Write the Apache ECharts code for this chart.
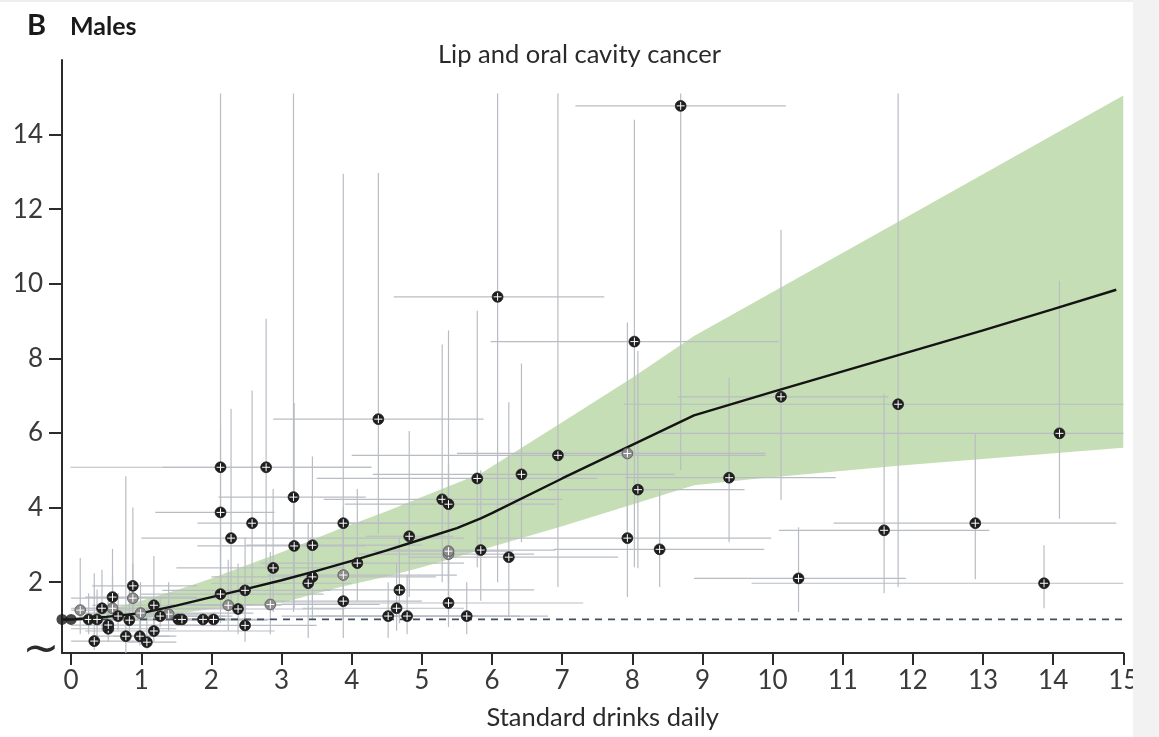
<!DOCTYPE html>
<html>
<head>
<meta charset="utf-8">
<script src="https://cdn.jsdelivr.net/npm/echarts@6/dist/echarts.min.js"></script>
<style>
  html, body { margin: 0; padding: 0; background: #ffffff; }
  #chart { width: 1159px; height: 737px; }
</style>
</head>
<body>
<div id="chart"></div>
<script>
// ---------------- DATA ----------------
const xTicks = [0, 1, 2, 3, 4, 5, 6, 7, 8, 9, 10, 11, 12, 13, 14, 15];
const yTicks = [2, 4, 6, 8, 10, 12, 14];

// fitted dose-response curve
const curveX = [-0.13, 0, 0.5, 1, 1.5, 2, 2.5, 3, 3.5, 4, 4.5, 5, 5.5, 5.84, 6, 7, 8, 8.88, 10, 11, 12, 13, 14, 14.9];
const curveY = [1.0, 1.0, 1.07, 1.17, 1.37, 1.6, 1.82, 2.05, 2.3, 2.57, 2.85, 3.15, 3.45, 3.71, 3.85, 4.78, 5.68, 6.47, 7.1, 7.65, 8.2, 8.75, 9.32, 9.84];

// uncertainty band
const bandX = [-0.13, 0, 0.5, 1, 1.5, 2, 2.5, 3, 3.84, 4.5, 5, 5.84, 7, 8, 8.88, 9.69, 11.83, 15];
const bandUpper = [1.0, 1.02, 1.25, 1.5, 1.78, 2.1, 2.45, 2.8, 3.44, 3.9, 4.28, 4.91, 6.29, 7.48, 8.6, 9.45, 11.7, 15.05];
const bandLower = [1.0, 0.99, 0.98, 1.0, 1.15, 1.28, 1.36, 1.45, 1.87, 2.15, 2.4, 2.86, 3.5, 4.08, 4.6, 4.76, 5.13, 5.6];

// reference line (relative risk = 1)
const refX = [-0.13, 15];
const refY = [1, 1];

// reference-category dots
const refPoints = [[-0.13, 1.0], [0.0, 1.0]];

// study estimates: [x, y, xLow, xHigh, yLow, yHigh]
const clusterPts = [
  [0.25, 1.0, -0.05, 1.6, 0.6, 1.7],
  [0.37, 1.0, 0.0, 1.8, 0.55, 1.8],
  [0.33, 0.42, 0.0, 1.1, 0.18, 2.24],
  [0.44, 1.3, 0.1, 1.3, 0.7, 2.33],
  [0.59, 1.6, 0.2, 1.8, 0.9, 2.89],
  [0.53, 0.75, 0.0, 1.5, 0.4, 1.5],
  [0.53, 0.85, 0.0, 1.9, 0.5, 1.6],
  [0.67, 1.09, 0.3, 2.2, 0.7, 1.7],
  [0.78, 0.55, 0.3, 1.4, 0.1, 4.84],
  [0.83, 0.98, 0.0, 2.8, 0.5, 1.9],
  [0.88, 1.9, 0.3, 1.8, 0.9, 4.0],
  [0.98, 0.55, 0.6, 1.5, 0.3, 1.2],
  [1.08, 0.39, 0.8, 1.5, 0.2, 1.1],
  [1.18, 1.38, 0.3, 2.5, 0.8, 2.7],
  [1.18, 0.69, 0.2, 2.9, 0.4, 1.3],
  [1.27, 1.09, 0.5, 2.3, 0.8, 1.6],
  [1.53, 1.0, 0.8, 2.5, 0.9, 1.1],
  [1.58, 1.0, 1.0, 2.3, 0.9, 1.1],
  [1.88, 1.0, 1.2, 2.6, 0.9, 1.1],
  [2.03, 1.0, 1.4, 2.9, 0.9, 1.15]
];
const clusterPtsLight = [
  [0.13, 1.25, 0.0, 0.9, 0.6, 2.65],
  [0.59, 1.3, 0.0, 2.5, 0.7, 2.2],
  [0.88, 1.57, 0.0, 2.2, 1.0, 2.5],
  [0.99, 1.17, 0.2, 2.6, 0.6, 2.0],
  [1.39, 1.14, 0.9, 2.0, 0.7, 2.0]
];
const midPts = [
  [2.13, 1.68, 1.0, 3.6, 0.9, 3.2],
  [2.38, 1.28, 1.0, 3.9, 0.6, 2.5],
  [2.48, 1.78, 1.3, 3.7, 1.0, 3.2],
  [2.48, 0.84, 1.6, 3.5, 0.4, 1.7],
  [2.13, 5.08, -0.01, 4.28, 1.6, 15.1],
  [2.78, 5.08, 1.3, 4.28, 2.4, 9.06],
  [2.13, 3.87, 1.2, 2.9, 1.5, 6.2],
  [2.28, 3.18, 1.0, 5.6, 1.5, 6.65],
  [2.58, 3.58, 1.8, 5.6, 1.8, 7.14],
  [2.88, 2.38, 1.5, 3.9, 1.2, 4.5],
  [3.17, 4.28, 2.1, 4.2, 1.2, 15.1],
  [3.18, 2.97, 1.8, 4.2, 1.3, 6.8],
  [3.44, 2.99, 2.5, 5.0, 1.5, 5.37],
  [3.44, 2.14, 2.0, 5.2, 1.0, 4.3],
  [3.38, 1.97, 2.0, 4.0, 0.5, 3.6],
  [3.88, 3.58, 2.5, 4.8, 1.0, 12.95],
  [3.88, 1.49, 2.8, 5.0, 0.5, 3.5],
  [4.08, 2.51, 2.7, 5.6, 1.5, 4.5],
  [4.38, 6.37, 2.88, 5.88, 3.3, 12.97],
  [4.82, 3.23, 4.2, 5.45, 1.6, 6.05],
  [4.52, 1.09, 3.4, 5.8, 0.5, 2.0],
  [4.64, 1.3, 3.3, 5.6, 0.7, 2.5],
  [4.68, 1.79, 3.6, 6.6, 0.9, 3.2],
  [4.79, 1.09, 3.0, 6.4, 0.6, 2.2],
  [5.29, 4.22, 3.6, 7.0, 2.0, 8.37],
  [5.38, 4.09, 3.9, 6.9, 2.0, 8.75],
  [5.38, 1.44, 3.0, 7.3, 0.8, 2.6],
  [5.64, 1.09, 3.5, 6.8, 0.6, 2.0],
  [5.79, 4.78, 3.5, 7.5, 2.4, 9.28],
  [5.84, 2.86, 4.6, 6.9, 1.5, 5.0]
];
const midPtsLight = [
  [2.24, 1.38, 1.5, 3.0, 0.7, 2.6],
  [2.84, 1.4, 1.4, 4.4, 0.6, 2.8],
  [3.88, 2.19, 2.8, 5.5, 1.0, 4.0],
  [5.38, 2.75, 4.1, 6.6, 1.2, 4.9],
  [5.38, 2.83, 4.3, 6.3, 1.4, 5.2]
];
const highPts = [
  [6.08, 9.65, 4.6, 7.6, 2.0, 15.1],
  [6.24, 2.67, 4.8, 7.8, 1.07, 6.82],
  [6.42, 4.89, 4.3, 8.6, 3.07, 7.86],
  [6.94, 5.4, 4.0, 9.9, 1.87, 15.1],
  [8.03, 8.45, 5.98, 10.09, 2.4, 14.4],
  [8.08, 4.48, 6.8, 9.6, 2.37, 8.2],
  [7.93, 3.18, 5.8, 9.98, 1.6, 6.14],
  [8.39, 2.88, 6.88, 9.88, 1.87, 4.46],
  [8.69, 14.77, 7.19, 10.19, 5.0, 15.1],
  [9.38, 4.8, 7.9, 10.9, 3.07, 7.48],
  [10.12, 6.97, 8.65, 11.65, 4.2, 11.45],
  [10.37, 2.1, 8.88, 11.9, 1.2, 3.47],
  [11.59, 3.39, 10.09, 13.09, 1.7, 7.05],
  [11.79, 6.77, 7.88, 15.0, 1.87, 15.1],
  [12.89, 3.58, 10.87, 14.9, 2.08, 6.0],
  [13.87, 1.97, 9.7, 15.0, 1.3, 2.99],
  [14.09, 5.99, 8.4, 15.0, 3.7, 10.08]
];
const highPtsLight = [
  [7.93, 5.45, 5.5, 9.9, 3.39, 8.96]
];

// ---------------- CHART ----------------
const darkRows = clusterPts.concat(midPts, highPts);
const lightRows = clusterPtsLight.concat(midPtsLight, highPtsLight);
const allRows = darkRows.concat(lightRows);

const FONT = 'Lato, "Open Sans", sans-serif';
const chart = echarts.init(document.getElementById('chart'), null, { renderer: 'canvas' });

function errorBars(params, api) {
  const x = api.value(0), y = api.value(1);
  const a = api.coord([api.value(2), y]);
  const b = api.coord([api.value(3), y]);
  const c = api.coord([x, api.value(4)]);
  const d = api.coord([x, api.value(5)]);
  const st = { stroke: '#b9bdc3', lineWidth: 1.2 };
  return {
    type: 'group',
    children: [
      { type: 'line', shape: { x1: a[0], y1: a[1], x2: b[0], y2: b[1] }, style: st },
      { type: 'line', shape: { x1: c[0], y1: c[1], x2: d[0], y2: d[1] }, style: st }
    ]
  };
}

function markerRenderer(fill, edge) {
  return function (params, api) {
    const p = api.coord([api.value(0), api.value(1)]);
    const r = 5.4, h = 4.0;
    return {
      type: 'group',
      children: [
        { type: 'circle', shape: { cx: p[0], cy: p[1], r: r }, style: { fill: fill, stroke: edge, lineWidth: 0.8 } },
        { type: 'line', shape: { x1: p[0] - h, y1: p[1], x2: p[0] + h, y2: p[1] }, style: { stroke: '#ffffff', lineWidth: 1.0 } },
        { type: 'line', shape: { x1: p[0], y1: p[1] - h, x2: p[0], y2: p[1] + h }, style: { stroke: '#ffffff', lineWidth: 1.0 } }
      ]
    };
  };
}

const option = {
  backgroundColor: '#ffffff',
  animation: false,
  title: {
    text: 'Lip and oral cavity cancer',
    left: 'center',
    top: 37,
    textStyle: { fontFamily: FONT, fontSize: 25.5, fontWeight: 'normal', color: '#2a2a2a' }
  },
  grid: { left: 62, right: 35.7, top: 60, bottom: 84, containLabel: false },
  xAxis: {
    type: 'value',
    min: -0.13,
    max: 15,
    name: 'Standard drinks daily',
    nameLocation: 'middle',
    nameGap: 52,
    nameTextStyle: { fontFamily: FONT, fontSize: 25.5, color: '#2a2a2a', padding: [0, 0, 0, 20], verticalAlign: 'top' },
    axisLine: { show: true, onZero: false, lineStyle: { color: '#2b2b2b', width: 2 } },
    axisTick: { show: true, length: 12, customValues: xTicks, lineStyle: { color: '#2b2b2b', width: 2 } },
    axisLabel: { customValues: xTicks, fontFamily: FONT, fontSize: 26, color: '#3a3a3a', margin: 15, showMinLabel: true, showMaxLabel: true },
    splitLine: { show: false }
  },
  yAxis: {
    type: 'value',
    min: 0.1,
    max: 16,
    axisLine: { show: true, onZero: false, lineStyle: { color: '#2b2b2b', width: 2 } },
    axisTick: { show: true, length: 13, customValues: yTicks, lineStyle: { color: '#2b2b2b', width: 2 } },
    axisLabel: { customValues: yTicks, fontFamily: FONT, fontSize: 26, color: '#3a3a3a', margin: 19 },
    splitLine: { show: false }
  },
  series: [
    {
      name: 'band',
      type: 'custom',
      silent: true,
      z: 1,
      clip: true,
      data: [[bandX[0], bandLower[0]]],
      renderItem: function (params, api) {
        const pts = [];
        for (let i = 0; i < bandX.length; i++) pts.push(api.coord([bandX[i], bandUpper[i]]));
        for (let i = bandX.length - 1; i >= 0; i--) pts.push(api.coord([bandX[i], bandLower[i]]));
        return { type: 'polygon', shape: { points: pts }, style: { fill: '#c6deb5' } };
      }
    },
    {
      name: 'errors',
      type: 'custom',
      silent: true,
      z: 2,
      clip: true,
      encode: { x: 0, y: 1 },
      data: allRows,
      renderItem: errorBars
    },
    {
      name: 'reference',
      type: 'line',
      silent: true,
      z: 3,
      symbol: 'none',
      data: refX.map((x, i) => [x, refY[i]]),
      lineStyle: { color: '#3f5060', width: 1.8, type: [7, 6] }
    },
    {
      name: 'curve',
      type: 'line',
      silent: true,
      z: 4,
      symbol: 'none',
      smooth: false,
      data: curveX.map((x, i) => [x, curveY[i]]),
      lineStyle: { color: '#141414', width: 2.4 }
    },
    {
      name: 'refDots',
      type: 'scatter',
      silent: true,
      z: 5,
      symbol: 'circle',
      symbolSize: 11,
      itemStyle: { color: '#1a1a1a' },
      data: refPoints
    },
    {
      name: 'lightMarkers',
      type: 'custom',
      silent: true,
      z: 5,
      clip: true,
      encode: { x: 0, y: 1 },
      data: lightRows,
      renderItem: markerRenderer('#8c8c8c', '#555555')
    },
    {
      name: 'darkMarkers',
      type: 'custom',
      silent: true,
      z: 6,
      clip: true,
      encode: { x: 0, y: 1 },
      data: darkRows,
      renderItem: markerRenderer('#1e1e1e', '#1e1e1e')
    }
  ],
  graphic: [
    { type: 'rect', z: 100, shape: { x: 0, y: 0, width: 1159, height: 2 }, style: { fill: '#eeeeee' } },
    { type: 'rect', z: 100, shape: { x: 1133, y: 0, width: 26, height: 737 }, style: { fill: '#f2f2f2' } },
    { type: 'text', z: 100, style: { text: 'B', x: 27, y: 26, font: 'bold 29px ' + FONT, fill: '#1a1a1a', textVerticalAlign: 'middle' } },
    { type: 'text', z: 100, style: { text: 'Males', x: 70, y: 27, font: 'bold 25px ' + FONT, fill: '#1a1a1a', textVerticalAlign: 'middle' } },
    { type: 'text', z: 100, style: { text: '~', x: 41, y: 652, font: '44px "DejaVu Sans"', fill: '#2b2b2b', textAlign: 'center', textVerticalAlign: 'middle' } }
  ]
};

chart.setOption(option);
</script>
</body>
</html>
